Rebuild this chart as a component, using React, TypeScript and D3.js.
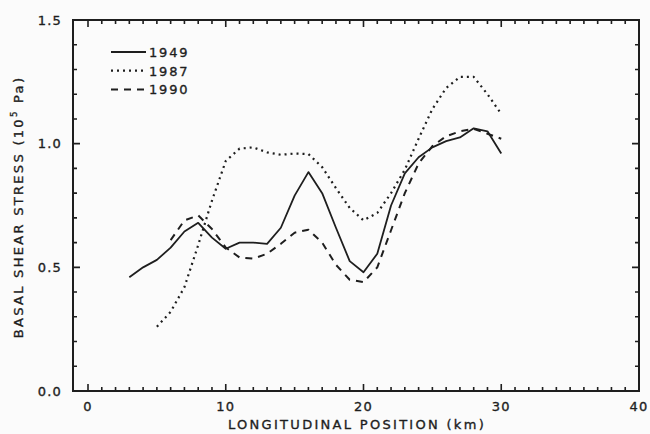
import React from 'react'
import * as d3 from 'd3'

// longitudinal position (km) and basal shear stress (10^5 Pa)
const km1949 = [3, 4, 5, 6, 7, 8, 9, 10, 11, 12, 13, 14, 15, 16, 17, 18, 19, 20, 21, 22, 23, 24, 25, 26, 27, 28, 29, 30];
const stress1949 = [0.46, 0.50, 0.53, 0.58, 0.645, 0.68, 0.62, 0.575, 0.60, 0.60, 0.595, 0.66, 0.79, 0.885, 0.80, 0.66, 0.525, 0.48, 0.555, 0.75, 0.88, 0.945, 0.985, 1.01, 1.025, 1.062, 1.05, 0.96];

const km1987 = [5, 6, 7, 8, 9, 10, 11, 12, 13, 14, 15, 16, 17, 18, 19, 20, 21, 22, 23, 24, 25, 26, 27, 28, 29, 30];
const stress1987 = [0.26, 0.32, 0.42, 0.59, 0.77, 0.93, 0.98, 0.985, 0.965, 0.955, 0.96, 0.958, 0.905, 0.82, 0.74, 0.69, 0.72, 0.80, 0.895, 1.02, 1.14, 1.225, 1.27, 1.27, 1.20, 1.12];

const km1990 = [6, 7, 8, 9, 10, 11, 12, 13, 14, 15, 16, 17, 18, 19, 20, 21, 22, 23, 24, 25, 26, 27, 28, 29, 30];
const stress1990 = [0.61, 0.69, 0.71, 0.655, 0.58, 0.54, 0.535, 0.555, 0.595, 0.64, 0.652, 0.60, 0.51, 0.45, 0.44, 0.50, 0.65, 0.80, 0.92, 0.99, 1.03, 1.05, 1.06, 1.04, 1.02];

const seriesNames = ['1949', '1987', '1990'];
const xTickLabels = [0, 10, 20, 30, 40];
const yTickLabels = [0.0, 0.5, 1.0, 1.5];

const App = () => {
  const width = 650, height = 434;
  const left = 73, right = 639, top = 20, bottom = 391;

  const x = d3.scaleLinear().domain([0, 40]).range([88, 639]);
  const y = d3.scaleLinear().domain([0, 1.5]).range([bottom, top]);

  const line = d3.line<[number, number]>()
    .x(d => x(d[0]))
    .y(d => y(d[1]));

  const pairs = (xs: number[], ys: number[]) => xs.map((v, i) => [v, ys[i]] as [number, number]);

  const series = [
    {name: seriesNames[0], data: pairs(km1949, stress1949), dash: null, w: 1.8},
    {name: seriesNames[1], data: pairs(km1987, stress1987), dash: '2,4', w: 2.2},
    {name: seriesNames[2], data: pairs(km1990, stress1990), dash: '7,6', w: 2},
  ];

  const ink = '#1e1e1e';
  const font = '"DejaVu Sans", sans-serif';
  // plotter-style lettering is a bit heavier than DejaVu Book
  const textStyle = {fontFamily: font, fontSize: 13, fill: ink, stroke: ink, strokeWidth: 0.35};

  const xMinor = d3.range(0, 41, 1);
  const yMinor = d3.range(0, 16, 1).map(v => v / 10);

  // tick marks as one path, inward on all four sides
  let tickPath = '';
  xMinor.forEach(v => {
    const len = v % 10 === 0 ? 7 : 4;
    tickPath += `M${x(v)},${bottom}V${bottom - len}M${x(v)},${top}V${top + len}`;
  });
  yMinor.forEach(v => {
    const len = Math.round(v * 10) % 5 === 0 ? 7 : 4;
    tickPath += `M${left},${y(v)}H${left + len}M${right},${y(v)}H${right - len}`;
  });

  const framePath = `M${left},${top}H${right}V${bottom}H${left}Z`;

  return (
    <svg width={width} height={height} style={{position: 'absolute', left: 0, top: 0, background: '#fbfbfb'}}>
      <path d={tickPath} fill="none" stroke={ink} strokeWidth={1.6} />
      <path d={framePath} fill="none" stroke={ink} strokeWidth={2} />

      {/* tick labels */}
      {xTickLabels.map(v => (
        <text key={'xl' + v} x={x(v)} y={411} textAnchor="middle" letterSpacing={1.2} {...textStyle}>{v}</text>
      ))}
      {yTickLabels.map(v => (
        <text key={'yl' + v} x={62} y={y(v) + 4.5} textAnchor="end" letterSpacing={1.2} {...textStyle}>{v.toFixed(1)}</text>
      ))}

      {/* axis titles */}
      <text x={357} y={429} textAnchor="middle" letterSpacing={2.3} {...textStyle}>LONGITUDINAL POSITION (km)</text>
      <text transform="translate(23,207) rotate(-90)" textAnchor="middle" letterSpacing={2.3} {...textStyle}>
        BASAL SHEAR STRESS (10<tspan fontSize={8.5} dy={-6}>5</tspan><tspan dy={6}> Pa)</tspan>
      </text>

      {/* series */}
      {series.map(s => (
        <path key={s.name} d={line(s.data) || ''} fill="none" stroke={ink} strokeWidth={s.w}
          strokeDasharray={s.dash || undefined} strokeLinejoin="round" />
      ))}

      {/* legend */}
      {series.map((s, i) => {
        const ly = 52 + i * 18.7;
        return (
          <g key={'lg' + s.name}>
            <line x1={111} x2={146} y1={ly} y2={ly} stroke={ink} strokeWidth={s.w}
              strokeDasharray={s.dash || undefined} />
            <text x={149} y={ly + 5} letterSpacing={1.8} {...textStyle}>{s.name}</text>
          </g>
        );
      })}
    </svg>
  );
};

export default App;
